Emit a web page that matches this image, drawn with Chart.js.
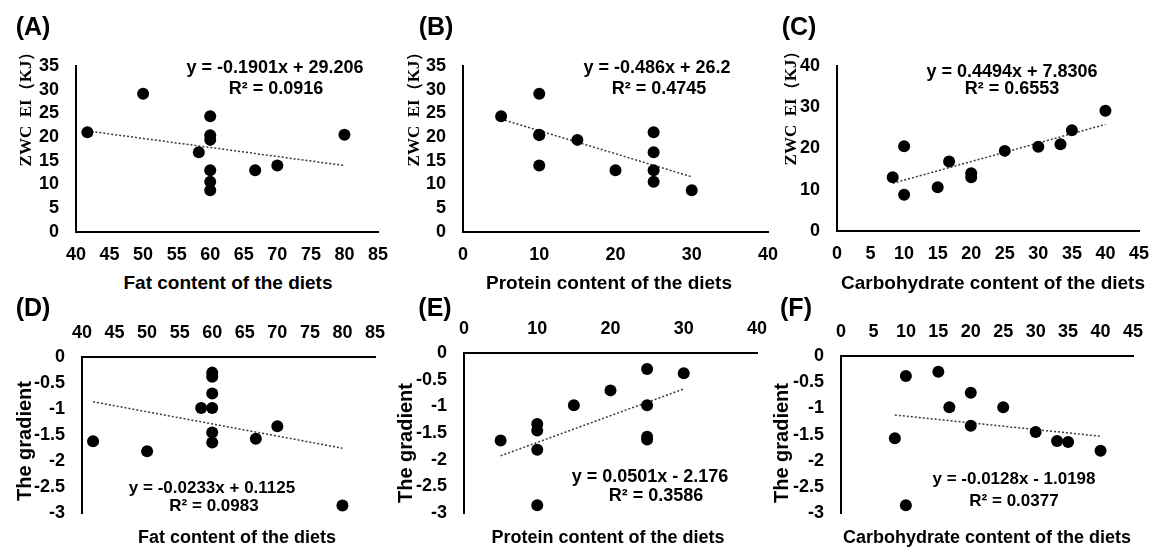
<!DOCTYPE html>
<html lang="en">
<head>
<meta charset="UTF-8" />
<title>Diet composition vs ZWC EI and gradient</title>
<script src="https://cdn.jsdelivr.net/npm/chart.js"></script>
<style>
  body {
    margin: 0;
    background: #fff;
    font-family: "Liberation Sans", Arial, sans-serif;
    color: #000;
  }
  .page {
    position: relative;
    width: 1153px;
    height: 549px;
    overflow: hidden;
  }
  .page canvas {
    position: absolute;
  }
  .txt {
    position: absolute;
    transform: translate(-50%, -50%);
    white-space: pre;
    font-weight: bold;
    line-height: 1;
  }
  .rot {
    transform: translate(-50%, -50%) rotate(-90deg);
  }
  .serif {
    font-family: "Liberation Serif", "Times New Roman", serif;
  }
</style>
</head>
<body>
<div class="page" id="page"></div>

<script>
  // 12 diets: composition (%) and the two measured responses
  const fat = [41.7, 50, 60, 60, 60, 58.3, 60, 60, 60, 66.7, 70, 80];
  const protein = [25, 10, 5, 10, 15, 25, 20, 25, 30, 25, 10, 10];
  const carbohydrate = [33.3, 40, 35, 30, 25, 16.7, 20, 15, 10, 8.3, 20, 10];
  const energyIntake = [21.0, 29.1, 24.4, 20.4, 19.4, 16.8, 13.0, 10.6, 8.8, 13.0, 14.0, 20.5];
  const gradient = [-1.62, -1.81, -1.64, -1.45, -0.98, -0.98, -0.70, -0.30, -0.38, -1.57, -1.33, -2.85];

  // linear trendlines printed on each panel (A..F)
  const slopes = [-0.1901, -0.486, 0.4494, -0.0233, 0.0501, -0.0128];
  const intercepts = [29.206, 26.2, 7.8306, 0.1125, -2.176, -1.0198];
  const equations = [
    "y = -0.1901x + 29.206", "y = -0.486x + 26.2", "y = 0.4494x + 7.8306",
    "y = -0.0233x + 0.1125", "y = 0.0501x - 2.176", "y = -0.0128x - 1.0198"
  ];
  const rSquared = ["R² = 0.0916", "R² = 0.4745", "R² = 0.6553", "R² = 0.0983", "R² = 0.3586", "R² = 0.0377"];

  const xTitles = ["Fat content of the diets", "Protein content of the diets", "Carbohydrate content of the diets"];
  const yTitles = ["ZWC  EI（KJ）", "The gradient"];
  const letters = ["(A)", "(B)", "(C)", "(D)", "(E)", "(F)"];

  // axis ranges per panel
  const xRanges = [[40, 85, 5], [0, 40, 10], [0, 45, 5], [40, 85, 5], [0, 40, 10], [0, 45, 5]];
  const yRanges = [[0, 35, 5], [0, 35, 5], [0, 40, 10], [-3, 0, 0.5], [-3, 0, 0.5], [-3, 0, 0.5]];

  Chart.defaults.font.family = "'Liberation Sans', Arial, sans-serif";
  Chart.defaults.font.weight = "bold";
  Chart.defaults.font.size = 18;
  Chart.defaults.color = "#000";

  // layout: plot area boxes in page pixels, and where the text sits
  const boxes = [
    { L: 76, R: 378, T: 63, B: 232 },
    { L: 463, R: 768, T: 63, B: 232 },
    { L: 837, R: 1139, T: 63, B: 231 },
    { L: 82, R: 375, T: 357, B: 526 },
    { L: 464, R: 757, T: 353, B: 526 },
    { L: 841, R: 1133, T: 356, B: 526 }
  ];
  const letterPos = [[33, 26], [436, 26], [799, 26], [33, 307], [435, 307], [796, 307]];
  const eqPos = [[275, 67, 276, 88], [657, 67, 659, 88], [1012, 71, 1012, 88],
                 [212, 487, 214, 505], [650, 476, 656, 495], [1014, 478, 1014, 500]];
  const xTitlePos = [[228, 282], [609, 282], [993, 282], [237, 537], [608, 537], [987, 537]];
  const yTitlePos = [[25, 105], [413, 105], [790, 104], [24, 441], [405, 443], [781, 443]];

  const page = document.getElementById("page");

  function addText(text, x, y, size, extra) {
    const d = document.createElement("div");
    d.className = "txt" + (extra ? " " + extra : "");
    d.textContent = text;
    d.style.left = x + "px";
    d.style.top = y + "px";
    d.style.fontSize = size + "px";
    page.appendChild(d);
  }

  const xSeries = [fat, protein, carbohydrate, fat, protein, carbohydrate];
  const ySeries = [energyIntake, energyIntake, energyIntake, gradient, gradient, gradient];

  xSeries.forEach((xs, i) => {
    const ys = ySeries[i];
    const box = boxes[i];
    const onTop = i >= 3;
    const yW = 70;
    const xH = onTop ? 45 : 36;
    const padTop = onTop ? 0 : 25;
    const padBottom = onTop ? 15 : 0;
    const padRight = 25;

    const canvas = document.createElement("canvas");
    const left = box.L - yW;
    const top = onTop ? box.T - xH : box.T - padTop;
    const w = box.R + padRight - left;
    const h = onTop ? xH + (box.B - box.T) + padBottom : padTop + (box.B - box.T) + xH;
    canvas.width = w;
    canvas.height = h;
    canvas.style.left = left + "px";
    canvas.style.top = top + "px";
    canvas.style.width = w + "px";
    canvas.style.height = h + "px";
    page.appendChild(canvas);

    const points = xs.map((x, k) => ({ x: x, y: ys[k] }));
    const x0 = Math.min(...xs);
    const x1 = Math.max(...xs);
    const trend = [
      { x: x0, y: slopes[i] * x0 + intercepts[i] },
      { x: x1, y: slopes[i] * x1 + intercepts[i] }
    ];

    new Chart(canvas, {
      type: "scatter",
      data: {
        datasets: [
          {
            data: points,
            backgroundColor: "#000",
            borderColor: "#000",
            pointRadius: 6,
            pointHoverRadius: 6,
            pointBorderWidth: 0
          },
          {
            data: trend,
            showLine: true,
            borderColor: "#3a3a3a",
            borderWidth: 1.5,
            borderDash: [2, 2],
            pointRadius: 0,
            fill: false
          }
        ]
      },
      options: {
        responsive: false,
        animation: false,
        events: [],
        layout: { padding: { left: 0, right: padRight, top: padTop, bottom: padBottom } },
        plugins: { legend: { display: false }, tooltip: { enabled: false } },
        scales: {
          x: {
            type: "linear",
            position: onTop ? "top" : "bottom",
            min: xRanges[i][0],
            max: xRanges[i][1],
            ticks: { stepSize: xRanges[i][2], padding: onTop ? 13 : 12, maxRotation: 0, autoSkip: false },
            grid: { display: false, drawTicks: false },
            border: { display: true, color: "#000", width: 2 },
            afterFit: (s) => { s.height = xH; }
          },
          y: {
            type: "linear",
            min: yRanges[i][0],
            max: yRanges[i][1],
            ticks: {
              stepSize: yRanges[i][2],
              padding: 17,
              autoSkip: false,
              callback: (v) => String(Number(v.toFixed(2)))
            },
            grid: { display: false, drawTicks: false },
            border: { display: true, color: "#000", width: 2 },
            afterFit: (s) => { s.width = yW; }
          }
        }
      }
    });

    // panel texts
    addText(letters[i], letterPos[i][0], letterPos[i][1], 25);
    const eqSize = (i === 3 || i === 5) ? 17 : 18;
    addText(equations[i], eqPos[i][0], eqPos[i][1], eqSize);
    addText(rSquared[i], eqPos[i][2], eqPos[i][3], eqSize);
    addText(xTitles[i % 3], xTitlePos[i][0], xTitlePos[i][1], onTop ? 18 : 19);
    if (onTop) {
      addText(yTitles[1], yTitlePos[i][0], yTitlePos[i][1], 20, "rot");
    } else {
      addText(yTitles[0], yTitlePos[i][0], yTitlePos[i][1], 17, "rot serif");
    }
  });
</script>
</body>
</html>
